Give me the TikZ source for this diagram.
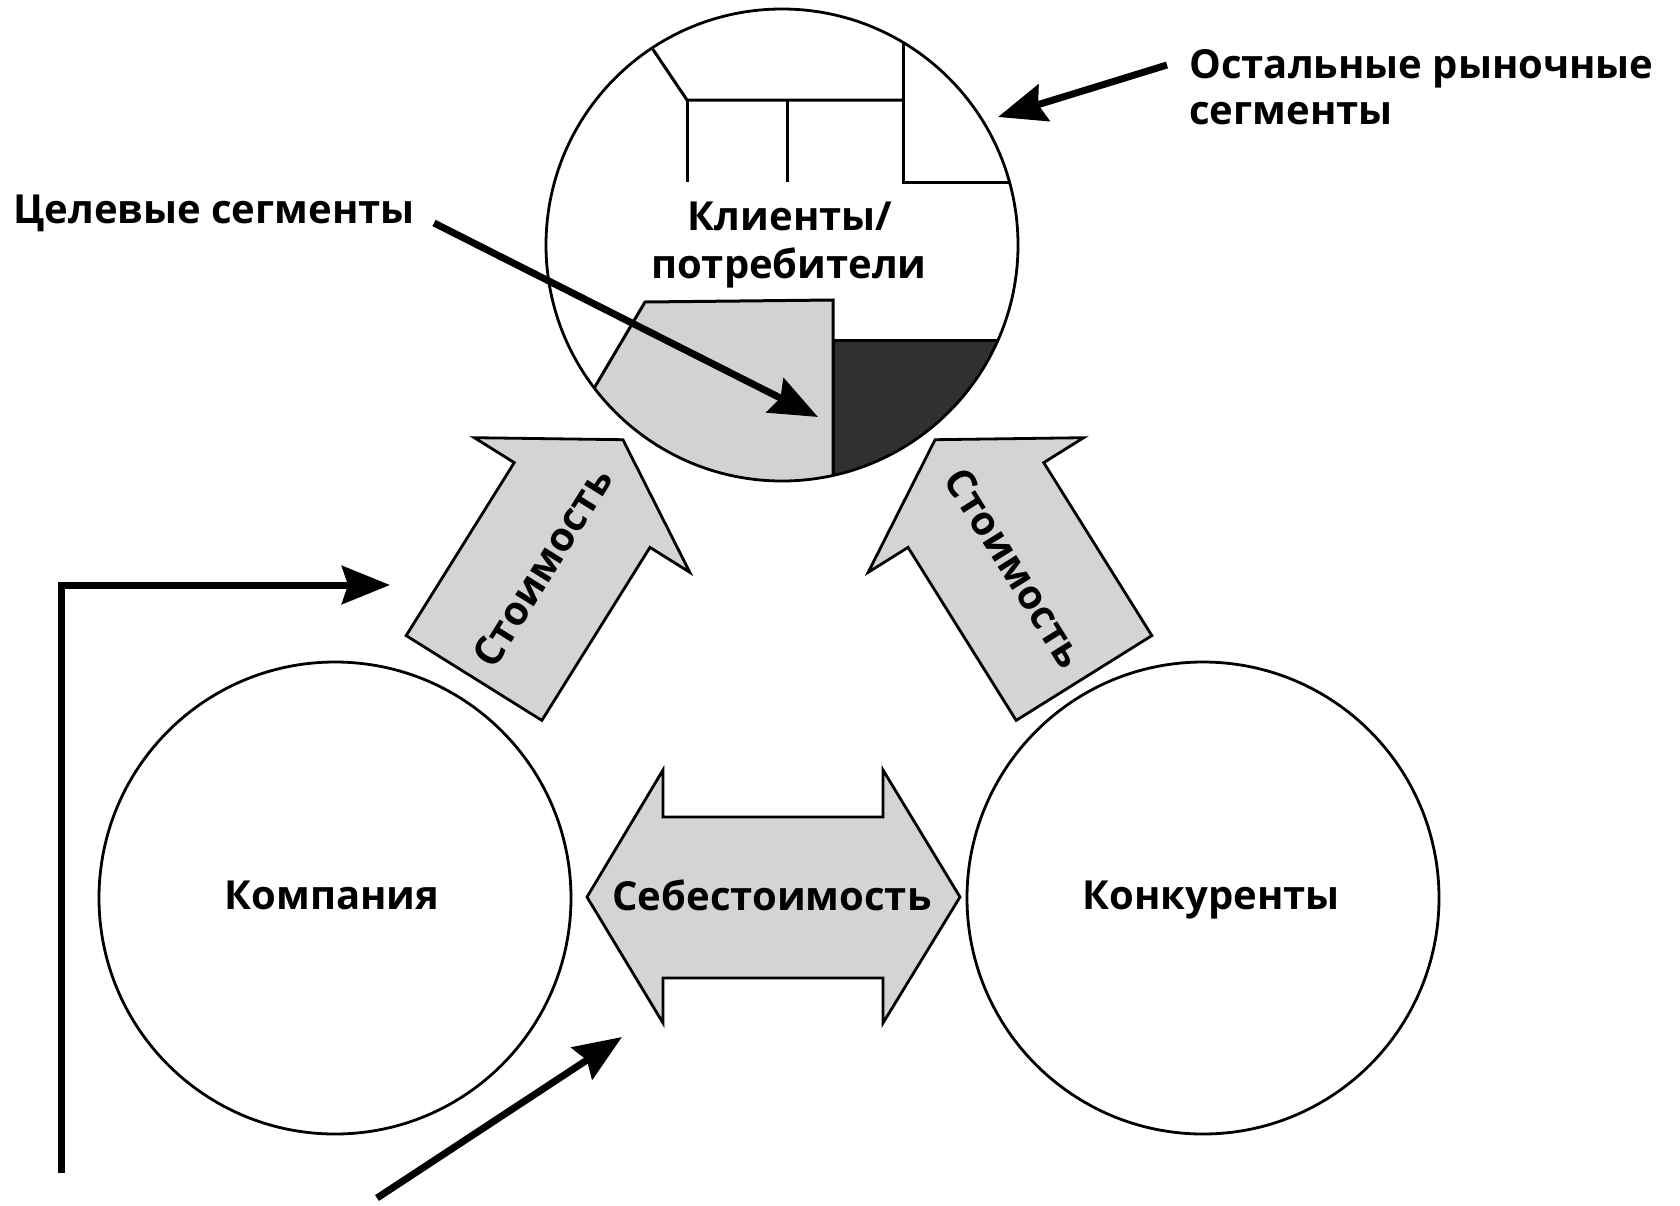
\documentclass[tikz,border=0pt]{standalone}
\usepackage{fontspec}
\setmainfont{Open Sans}
\usetikzlibrary{arrows.meta,calc}
\definecolor{blockgray}{HTML}{D4D4D4}
\definecolor{seggray}{HTML}{D2D2D2}
\definecolor{segdark}{HTML}{303030}
\begin{document}
\begin{tikzpicture}[x=0.5pt,y=-0.5pt,line join=miter,
  lab/.style={font=\fontsize{20}{24}\selectfont\bfseries, inner sep=0pt},
  ring/.style={draw, circle, line width=1.4pt, minimum size=236pt, inner sep=0pt},
  block/.style={draw, fill=blockgray, line width=1.4pt},
  blk/.style={line width=3.5pt, -{Stealth[length=24pt,width=19pt,inset=3pt]}},
  seg/.style={line width=1.5pt}]
\useasboundingbox (0,0) rectangle (1680,1205);

% --- customers circle contents
\begin{scope}
  \clip (782,245) circle[radius=236];
  \filldraw[seg, fill=seggray] (645,302) -- (833,300) -- (833,560) -- (480,560) -- (573,424) -- cycle;
  \filldraw[seg, fill=segdark] (833,340) -- (1060,340) -- (1060,560) -- (833,560) -- cycle;
  \draw[seg] (617,-4) -- (687,100) -- (903,100);
  \draw[seg] (687,100) -- (687,182);
  \draw[seg] (787,100) -- (787,182);
  \draw[seg] (903,-10) -- (903,182) -- (1060,182);
\end{scope}
\node[ring] (cust) at (782,245) {};
\node[lab, anchor=base] (cust1) at (790,230) {Клиенты/};
\node[lab, anchor=base] (cust2) at (789,278) {потребители};

% --- company and competitors
\node[ring] (comp) at (335,898) {};
\node[lab, anchor=base] (compt) at (332,909) {Компания};
\node[ring] (conc) at (1203,898) {};
\node[lab, anchor=base] (conct) at (1211,909) {Конкуренты};

% --- value arrows
\begin{scope}[shift={(474,678)}, rotate=58]
  \draw[block] (0,-80) -- (204,-80) -- (204,-127) -- (281,0) -- (204,127) -- (204,80) -- (0,80) -- cycle;
\end{scope}
\node[lab, rotate=58] (val1) at (542,567) {Стоимость};
\begin{scope}[shift={(1084,678)}, rotate=122]
  \draw[block] (0,-80) -- (204,-80) -- (204,-127) -- (281,0) -- (204,127) -- (204,80) -- (0,80) -- cycle;
\end{scope}
\node[lab, rotate=-58] (val2) at (1015,568) {Стоимость};

% --- cost double arrow
\draw[block] (587,897) -- (663,770) -- (663,817) -- (883,817) -- (883,770) -- (960,897)
  -- (883,1023) -- (883,978) -- (663,978) -- (663,1023) -- cycle;
\node[lab, anchor=base] (cost) at (772,910) {Себестоимость};

% --- labels
\node[lab, anchor=base west] (tgt) at (13,223) {Целевые сегменты};
\node[lab, anchor=base west] (oth1) at (1189,78) {Остальные рыночные};
\node[lab, anchor=base west] (oth2) at (1189,124) {сегменты};

% --- pointer arrows
\coordinate (tgtS) at (434,223);
\coordinate (tgtE) at (818,417);
\coordinate (othS) at (1167,65);
\coordinate (othE) at (998,117);
\coordinate (bentS) at (61,1173);
\coordinate (bentE) at (390,585);
\coordinate (diagS) at (377,1198);
\coordinate (diagE) at (622,1037);
\draw[blk] (tgtS) -- (tgtE);
\draw[blk] (othS) -- (othE);
\draw[blk] (bentS) |- (bentE);
\draw[blk] (diagS) -- (diagE);
\end{tikzpicture}
\end{document}
